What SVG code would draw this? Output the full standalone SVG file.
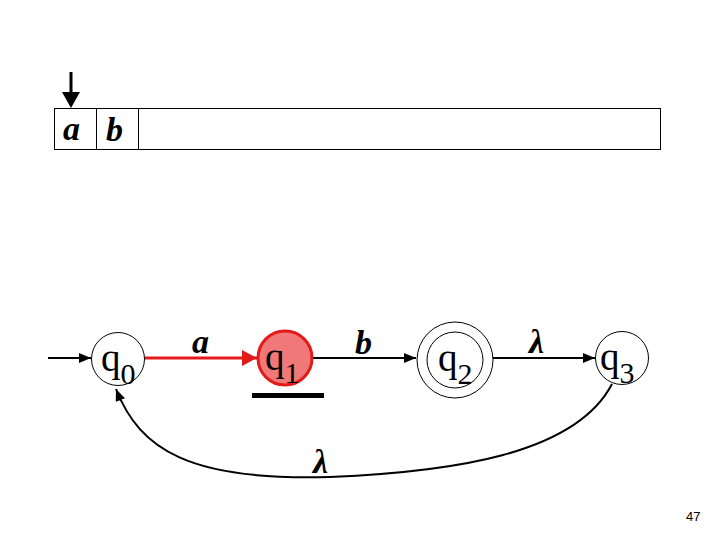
<svg xmlns="http://www.w3.org/2000/svg" width="720" height="540" viewBox="0 0 720 540">
<defs>
<marker id="ah" markerWidth="12" markerHeight="10" refX="12" refY="5" orient="auto" markerUnits="userSpaceOnUse">
<path d="M0,0 L12,5 L0,10 Z" fill="#000"/>
</marker>
<marker id="ahr" markerWidth="16" markerHeight="16" refX="15" refY="8" orient="auto" markerUnits="userSpaceOnUse">
<path d="M0,0 L15,8 L0,16 Z" fill="#e21a1a"/>
</marker>
<style>
.st{fill:#fff;stroke:#000;stroke-width:1}
.ql{font-family:"Liberation Serif","Times New Roman",serif;font-size:39px;fill:#000}
.qs{font-size:30px}
.lb{font-family:"Liberation Serif","Times New Roman",serif;font-style:italic;font-weight:bold;font-size:34px;fill:#000}
.ed{fill:none;stroke:#000;stroke-width:2}
</style>
</defs>
<rect width="720" height="540" fill="#fff"/>
<g id="tape">
<rect x="54.5" y="108.5" width="606" height="41" fill="#fff" stroke="#000" stroke-width="1"/>
<line x1="96.5" y1="108.5" x2="96.5" y2="149.5" stroke="#000" stroke-width="1"/>
<line x1="138.5" y1="108.5" x2="138.5" y2="149.5" stroke="#000" stroke-width="1"/>
<text class="lb" x="63" y="140">a</text>
<text class="lb" x="106" y="141">b</text>
</g>
<g id="head">
<line x1="71" y1="72" x2="71" y2="94" stroke="#000" stroke-width="3"/>
<path d="M62,92 L80,92 L71,108 Z" fill="#000"/>
</g>
<g id="connectors">
<line class="ed" x1="48" y1="358" x2="91" y2="358" marker-end="url(#ah)"/>
<line x1="144" y1="358" x2="257" y2="358" stroke="#e21a1a" stroke-width="3" marker-end="url(#ahr)"/>
<line class="ed" x1="313" y1="358" x2="416" y2="358" marker-end="url(#ah)"/>
<line class="ed" x1="493" y1="358" x2="595" y2="358" marker-end="url(#ah)"/>
<path class="ed" d="M612,384 C575,455 450,472 330,477 C190,481 140,450 116,389" marker-end="url(#ah)"/>
<text class="lb" x="192" y="353" font-size="30">a</text>
<text class="lb" x="355" y="354" font-size="30">b</text>
<text class="lb" x="529" y="353" font-size="30" font-weight="normal">λ</text>
<text class="lb" x="313" y="473" font-size="30" font-weight="normal">λ</text>
</g>
<g id="q0">
<circle class="st" cx="118" cy="359" r="26.5"/>
<text class="ql" x="101" y="371">q<tspan class="qs" dy="13">0</tspan></text>
</g>
<g id="q1">
<circle cx="285" cy="358" r="27" fill="#f07878" stroke="#e21a1a" stroke-width="3"/>
<text class="ql" x="265" y="370">q<tspan class="qs" dy="13">1</tspan></text>
<rect x="252" y="393" width="72" height="5" fill="#000"/>
</g>
<g id="q2">
<circle class="st" cx="455" cy="360" r="38"/>
<circle class="st" cx="455" cy="360" r="28"/>
<text class="ql" x="438" y="371">q<tspan class="qs" dy="13">2</tspan></text>
</g>
<g id="q3">
<circle class="st" cx="622" cy="358" r="26.5"/>
<text class="ql" x="600" y="370">q<tspan class="qs" dy="13">3</tspan></text>
</g>
<text x="686" y="521" font-family="Liberation Sans, Arial, sans-serif" font-size="13" fill="#000">47</text>
</svg>
